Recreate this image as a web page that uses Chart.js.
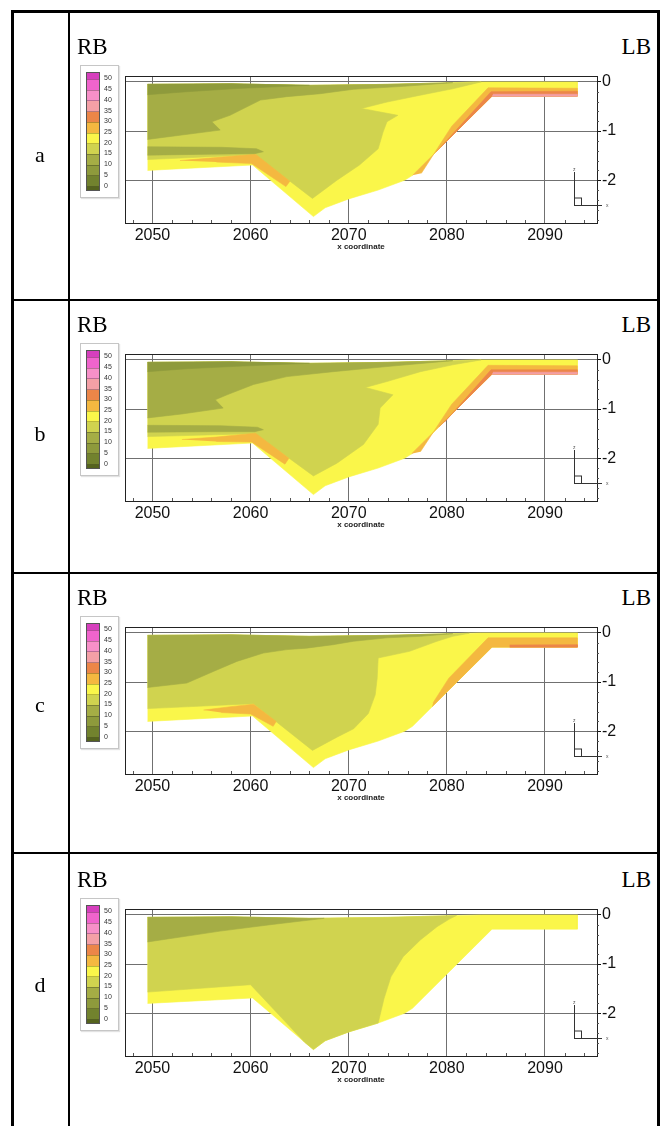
<!DOCTYPE html>
<html>
<head>
<meta charset="utf-8">
<script src="https://cdn.jsdelivr.net/npm/chart.js@4.4.1/dist/chart.umd.min.js"></script>
<style>
  html, body { margin: 0; padding: 0; background: #fff; }
  #page { position: relative; width: 662px; height: 1126px; overflow: hidden; background: #fff; }
  .rule { position: absolute; background: #000; }
  .bank { position: absolute; font-family: 'Liberation Serif', 'Times New Roman', serif; font-size: 23px; line-height: 23px; color: #000; }
  .rowtag { position: absolute; left: 20px; width: 40px; text-align: center; font-family: 'Liberation Serif', 'Times New Roman', serif; font-size: 22px; line-height: 22px; color: #000; }
  canvas { position: absolute; }
  .cbox { position: absolute; left: 80px; width: 37px; height: 131px; border: 1px solid #c6c6c6; background: #fff; box-shadow: 1px 1px 1px #e2e2e2; }
  .cbar { position: absolute; left: 5px; top: 6px; width: 12px; height: 117px; border: 1px solid #555; overflow: hidden; }
  .band { position: absolute; left: 0; width: 12px; }
  .sep { position: absolute; left: 0; width: 12px; height: 1px; background: rgba(0,0,0,0.25); }
  .clab { position: absolute; left: 23px; font-family: 'Liberation Sans', Arial, sans-serif; font-size: 7px; line-height: 8px; color: #333; }
</style>
</head>
<body>
<div id="page"></div>
<script>
'use strict';

// axis ticks
const xTicks = [2050, 2060, 2070, 2080, 2090];
const yTicks = [0, -1, -2];
const xMin = 2047.2, xMax = 2095.3;
const yMin = -2.87, yMax = 0.12;

// contour levels of the colour bar, top to bottom (12 bands, labels on the boundaries)
const levelLabels = [50, 45, 40, 35, 30, 25, 20, 15, 10, 5, 0];
const levelColors = ['#d63fbd', '#f064cc', '#f790c8', '#f4a0a6', '#ec8648', '#f4b840',
    '#faf64a', '#d0d34f', '#a5ad45', '#8e9a3c', '#72822e', '#55631e'];

// cross section outline (x, z)
const outline = [[2049.5, -0.05], [2058, -0.04], [2066, -0.07], [2074, -0.05], [2083.5, 0.0],
    [2093.3, 0.0], [2093.3, -0.29], [2084.6, -0.29], [2076.5, -1.9], [2075.7, -2.0],
    [2073, -2.2], [2070, -2.38], [2067.6, -2.56], [2066.4, -2.74], [2060.2, -1.69], [2049.5, -1.8]];

// panel a
const a_yellowGreen = [[2049.5, -0.05], [2058, -0.04], [2066, -0.07], [2074, -0.05], [2083.5, 0.0],
    [2080.6, -0.14], [2077.3, -0.27], [2073.9, -0.41], [2071.3, -0.54], [2075.0, -0.68],
    [2073.9, -0.81], [2073.5, -1.02], [2073.0, -1.36], [2071.1, -1.69], [2068.8, -2.0],
    [2066.3, -2.37], [2060.5, -1.48], [2049.5, -1.58]];
const a_orangeLeft = [[2052.8, -1.6], [2056.5, -1.54], [2060.5, -1.47], [2064.0, -2.02],
    [2063.6, -2.13], [2060.1, -1.66], [2056.5, -1.63]];
const a_olive = [[2049.5, -0.05], [2058, -0.04], [2066, -0.07], [2074, -0.05], [2080.6, -0.015],
    [2075.6, -0.09], [2070.5, -0.15], [2067.1, -0.24], [2063.7, -0.3], [2061, -0.37],
    [2057.9, -0.68], [2056.05, -0.81], [2056.9, -0.98], [2053, -1.08], [2049.5, -1.17]];
const a_oliveLow = [[2049.5, -1.32], [2057, -1.33], [2060.6, -1.36], [2061.3, -1.42],
    [2060.4, -1.46], [2056, -1.47], [2049.5, -1.49]];
const a_darkOlive = [[2049.5, -0.05], [2058, -0.04], [2066, -0.07], [2058.6, -0.135],
    [2053.5, -0.2], [2049.5, -0.26]];
const a_orangeRight = [[2076.5, -1.9], [2084.6, -0.29], [2093.3, -0.29], [2093.3, -0.13],
    [2084.2, -0.12], [2080.5, -0.9], [2077.4, -1.86]];
const a_orangeDark = [[2078.9, -1.42], [2084.6, -0.29], [2093.3, -0.29], [2093.3, -0.19],
    [2084.5, -0.2], [2079.4, -1.32]];
const a_pink = [[2084.6, -0.29], [2093.3, -0.29], [2093.3, -0.25], [2084.7, -0.25]];

// panel b
const b_yellowGreen = [[2049.5, -0.05], [2058, -0.04], [2066, -0.07], [2074, -0.05], [2083.5, 0.0],
    [2080.6, -0.1], [2077.3, -0.24], [2073.9, -0.44], [2071.7, -0.56], [2074.5, -0.71],
    [2073.2, -0.98], [2073.0, -1.31], [2071.5, -1.72], [2068.8, -2.1], [2066.4, -2.36],
    [2060.5, -1.5], [2049.5, -1.56]];
const b_orangeLeft = [[2053, -1.62], [2056.5, -1.57], [2060.5, -1.49], [2063.9, -2.0],
    [2063.5, -2.12], [2060.1, -1.67], [2056.5, -1.66]];
const b_olive = [[2049.5, -0.05], [2058, -0.04], [2066, -0.07], [2074, -0.05], [2080.6, -0.015],
    [2073.9, -0.135], [2068.4, -0.24], [2063.7, -0.34], [2060.3, -0.5], [2057.6, -0.71],
    [2056.4, -0.81], [2057.2, -0.98], [2053, -1.1], [2049.5, -1.18]];
const b_oliveLow = [[2049.5, -1.33], [2057, -1.34], [2060.7, -1.37], [2061.3, -1.42],
    [2060.4, -1.46], [2056, -1.46], [2049.5, -1.47]];
const b_darkOlive = [[2049.5, -0.05], [2058, -0.04], [2066, -0.07], [2058.6, -0.13],
    [2053.5, -0.18], [2049.5, -0.24]];
const b_orangeRight = [[2076.4, -1.91], [2084.6, -0.29], [2093.3, -0.29], [2093.3, -0.12],
    [2084.2, -0.11], [2080.5, -0.9], [2077.3, -1.87]];
const b_orangeDark = [[2079.2, -1.36], [2084.6, -0.29], [2093.3, -0.29], [2093.3, -0.2],
    [2084.5, -0.2], [2079.8, -1.26]];
const b_pink = [[2084.6, -0.29], [2093.3, -0.29], [2093.3, -0.25], [2084.7, -0.25]];

// panel c
const c_yellowGreen = [[2049.5, -0.05], [2058, -0.04], [2066, -0.07], [2074, -0.05], [2082.3, -0.007],
    [2080.6, -0.07], [2079, -0.17], [2076.2, -0.375], [2073, -0.51], [2072.9, -0.92],
    [2072.7, -1.26], [2072, -1.64], [2070.5, -1.95], [2068.8, -2.12], [2066.3, -2.39],
    [2060.3, -1.44], [2049.5, -1.54]];
const c_orangeLeft = [[2055.2, -1.57], [2058, -1.5], [2060.3, -1.45], [2062.6, -1.8],
    [2062.3, -1.9], [2060, -1.65], [2057, -1.62]];
const c_olive = [[2049.5, -0.05], [2058, -0.04], [2066, -0.07], [2074, -0.05], [2080.6, -0.015],
    [2077.3, -0.07], [2073.9, -0.1], [2070.5, -0.17], [2068.4, -0.24], [2065.7, -0.31],
    [2063.7, -0.34], [2061.3, -0.41], [2058.6, -0.58], [2056.2, -0.785], [2053.5, -1.02],
    [2049.5, -1.11]];
const c_orangeRight = [[2078.5, -1.5], [2084.6, -0.29], [2093.3, -0.29], [2093.3, -0.1],
    [2084.2, -0.1], [2080.2, -0.92], [2078.6, -1.42]];
const c_redFlat = [[2086.4, -0.245], [2093.3, -0.24], [2093.3, -0.29], [2086.4, -0.29]];

// panel d
const d_yellowGreen = [[2049.5, -0.05], [2058, -0.04], [2066, -0.07], [2074, -0.05], [2081, -0.01],
    [2080.3, -0.08], [2079, -0.24], [2077.3, -0.51], [2075.55, -0.85], [2074.3, -1.26],
    [2073.6, -1.7], [2073, -2.2], [2070, -2.38], [2067.6, -2.56], [2066.4, -2.74],
    [2065.5, -2.59], [2060, -1.42], [2049.5, -1.57]];
const d_olive = [[2049.5, -0.05], [2058, -0.04], [2066, -0.07], [2067.5, -0.07], [2062, -0.2],
    [2056.9, -0.33], [2049.5, -0.55]];

// layers drawn bottom first: [polygon, colour band index]
const panels = [
    { name: 'a', layers: [[outline, 6], [a_yellowGreen, 7], [a_orangeLeft, 5], [a_olive, 8], [a_oliveLow, 8],
        [a_darkOlive, 9], [a_orangeRight, 5], [a_orangeDark, 4], [a_pink, 3]] },
    { name: 'b', layers: [[outline, 6], [b_yellowGreen, 7], [b_orangeLeft, 5], [b_olive, 8], [b_oliveLow, 8],
        [b_darkOlive, 9], [b_orangeRight, 5], [b_orangeDark, 4], [b_pink, 3]] },
    { name: 'c', layers: [[outline, 6], [c_yellowGreen, 7], [c_orangeLeft, 5], [c_olive, 8],
        [c_orangeRight, 5], [c_redFlat, 4]] },
    { name: 'd', layers: [[outline, 6], [d_yellowGreen, 7], [d_olive, 8]] }
];

// page layout
const frameTops = [76, 354, 627, 909];
const rowTagY = [157, 436, 707, 987];
const rowLines = [299, 572, 852];

const page = document.getElementById('page');

function addDiv(cls, css, text) {
    let el = document.createElement('div');
    el.className = cls;
    Object.assign(el.style, css);
    if (text !== undefined) el.textContent = text;
    page.appendChild(el);
    return el;
}

// table rules
addDiv('rule', { left: '11px', top: '10px', width: '649px', height: '3px' });
addDiv('rule', { left: '11px', top: '10px', width: '3px', height: '1116px' });
addDiv('rule', { left: '657px', top: '10px', width: '3px', height: '1116px' });
addDiv('rule', { left: '68px', top: '10px', width: '2px', height: '1116px' });
for (let i = 0; i < rowLines.length; i++) {
    addDiv('rule', { left: '11px', top: rowLines[i] + 'px', width: '649px', height: '2px' });
}

const framePlugin = {
    id: 'frame',
    afterDatasetsDraw(chart) {
        const ctx = chart.ctx;
        const a = chart.chartArea;
        const xs = chart.scales.x;
        const ys = chart.scales.y;
        ctx.save();
        ctx.strokeStyle = '#222';
        ctx.lineWidth = 1;
        ctx.strokeRect(Math.round(a.left) + 0.5, Math.round(a.top) + 0.5,
            Math.round(a.right - a.left), Math.round(a.bottom - a.top));
        // minor ticks
        ctx.strokeStyle = '#555';
        ctx.beginPath();
        for (let v = 2048; v <= 2094; v += 2) {
            if (v % 10 === 0) continue;
            let px = Math.round(xs.getPixelForValue(v)) + 0.5;
            ctx.moveTo(px, a.bottom);
            ctx.lineTo(px, a.bottom - 3);
        }
        for (let k = -14; k <= 0; k++) {
            if (k % 5 === 0) continue;
            let py = Math.round(ys.getPixelForValue(k * 0.2)) + 0.5;
            ctx.moveTo(a.right, py);
            ctx.lineTo(a.right + 2, py);
        }
        ctx.stroke();
        // axis triad
        let r = a.right, b = a.bottom;
        ctx.strokeStyle = '#333';
        ctx.beginPath();
        ctx.moveTo(r - 22.5, b - 51);
        ctx.lineTo(r - 22.5, b - 17.5);
        ctx.lineTo(r + 5, b - 17.5);
        ctx.stroke();
        ctx.strokeRect(r - 22.5, b - 25, 7, 7.5);
        ctx.fillStyle = '#555';
        ctx.font = '5px Arial';
        ctx.fillText('z', r - 24, b - 52);
        ctx.fillText('x', r + 9, b - 16);
        ctx.restore();
    }
};

function buildColorBar(frameTop) {
    let box = addDiv('cbox', { top: (frameTop - 11) + 'px' });
    let bar = document.createElement('div');
    bar.className = 'cbar';
    box.appendChild(bar);
    let first = 6.3, step = 10.74;
    let edges = [0];
    for (let k = 0; k < levelLabels.length; k++) edges.push(first + step * k);
    edges.push(117);
    for (let i = 0; i < levelColors.length; i++) {
        let band = document.createElement('div');
        band.className = 'band';
        band.style.top = edges[i] + 'px';
        band.style.height = (edges[i + 1] - edges[i] + 0.5) + 'px';
        band.style.background = levelColors[i];
        bar.appendChild(band);
    }
    for (let k = 0; k < levelLabels.length; k++) {
        let sep = document.createElement('div');
        sep.className = 'sep';
        sep.style.top = (first + step * k - 0.5) + 'px';
        bar.appendChild(sep);
        let lab = document.createElement('div');
        lab.className = 'clab';
        lab.style.top = (6 + first + step * k - 4) + 'px';
        lab.textContent = levelLabels[k];
        box.appendChild(lab);
    }
}

function makePanel(panel, i) {
    let top = frameTops[i];
    let cv = document.createElement('canvas');
    cv.width = 540;
    cv.height = 193;
    cv.style.left = '100px';
    cv.style.top = (top - 14) + 'px';
    page.appendChild(cv);

    let datasets = panel.layers.slice().reverse().map(function (layer) {
        let col = levelColors[layer[1]];
        return {
            data: layer[0].map(p => ({ x: p[0], y: p[1] })),
            showLine: true,
            fill: 'shape',
            tension: 0,
            backgroundColor: col,
            borderColor: col,
            borderWidth: 0.6,
            pointRadius: 0,
            pointHoverRadius: 0
        };
    });

    new Chart(cv, {
        type: 'scatter',
        data: { datasets: datasets },
        options: {
            responsive: false,
            animation: false,
            events: [],
            layout: { padding: { left: 25, top: 14, right: 0, bottom: 0 } },
            plugins: {
                legend: { display: false },
                tooltip: { enabled: false },
                filler: { drawTime: 'beforeDatasetDraw' }
            },
            scales: {
                x: {
                    type: 'linear', position: 'bottom', min: xMin, max: xMax,
                    afterBuildTicks: s => { s.ticks = xTicks.map(v => ({ value: v })); },
                    afterFit: s => { s.height = 32; },
                    grid: { color: '#707070', lineWidth: 1, drawTicks: false },
                    border: { display: false },
                    ticks: {
                        color: '#111', padding: 3, maxRotation: 0, autoSkip: false,
                        font: { family: "'Liberation Sans', Arial, sans-serif", size: 16 },
                        callback: v => String(v)
                    },
                    title: {
                        display: true, text: 'x coordinate', color: '#222',
                        font: { family: "'Liberation Sans Narrow', 'Liberation Sans', Arial", size: 8, weight: 'bold' },
                        padding: { top: 0, bottom: 3 }
                    }
                },
                y: {
                    type: 'linear', position: 'right', min: yMin, max: yMax,
                    afterBuildTicks: s => { s.ticks = yTicks.map(v => ({ value: v })); },
                    afterFit: s => { s.width = 43; },
                    grid: { color: '#707070', lineWidth: 1, drawTicks: true, tickLength: 4, tickColor: '#111' },
                    border: { display: false },
                    ticks: {
                        color: '#111', padding: 1,
                        font: { family: "'Liberation Sans', Arial, sans-serif", size: 16 },
                        callback: v => String(v)
                    }
                }
            }
        },
        plugins: [framePlugin]
    });

    buildColorBar(top);
    addDiv('bank', { left: '77px', top: (top - 41) + 'px' }, 'RB');
    addDiv('bank', { right: '11px', top: (top - 41) + 'px' }, 'LB');
    addDiv('rowtag', { top: (rowTagY[i] - 13) + 'px' }, panel.name);
}

for (let i = 0; i < panels.length; i++) {
    makePanel(panels[i], i);
}
</script>
</body>
</html>
